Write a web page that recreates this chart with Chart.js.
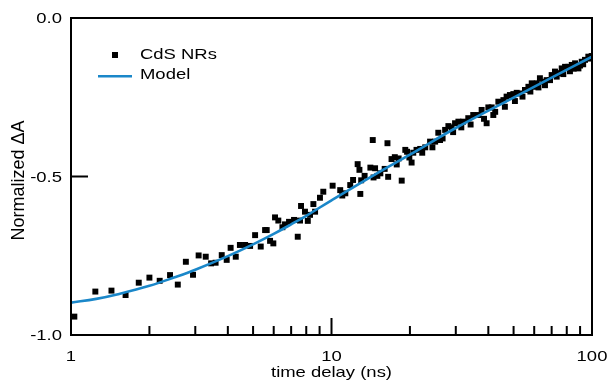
<!DOCTYPE html>
<html><head><meta charset="utf-8">
<script src="https://cdn.jsdelivr.net/npm/chart.js@4.4.1/dist/chart.umd.min.js"></script>
<style>html,body{margin:0;padding:0;background:#fff}#wrap{width:608px;height:392px}</style>
</head><body><div id="wrap"><canvas id="c" width="608" height="392"></canvas></div>
<script>
// ---- data ----
const dataTimes = [1.03,1.24,1.43,1.62,1.82,2.00,2.19,2.40,2.57,2.76,2.94,3.09,3.29,3.45,3.59,3.79,3.96,4.10,4.29,4.45,4.66,4.87,5.09,5.35,5.56,5.64,5.81,5.98,6.07,6.25,6.48,6.63,6.87,7.18,7.42,7.57,7.64,7.91,8.11,8.27,8.52,8.65,9.03,9.30,
10.1,10.8,11.0,11.3,11.8,12.1,12.6,12.8,12.9,13.0,13.4,14.1,14.4,14.5,14.7,15.0,15.4,16.0,16.4,16.5,17.0,17.5,17.8,18.1,18.6,19.2,19.5,19.9,20.3,20.6,21.2,21.9,22.3,22.9,23.9,24.4,25.0,25.7,26.1,26.7,27.3,28.1,28.9,29.3,29.8,30.7,
31.5,32.0,33.5,34.2,35.0,36.6,37.7,38.5,39.4,40.0,41.2,41.8,42.5,43.7,45.7,46.3,47.0,48.4,49.9,50.6,51.4,52.9,54.1,55.3,57.0,58.0,58.7,59.6,61.4,62.3,63.1,65.0,66.0,67.0,69.0,70.0,72.1,73.2,74.3,76.5,77.6,78.8,81.1,82.3,83.6,85.0,86.1,88.7,90.0,91.3,92.5,94.0,96.8,98.2,99.7];
const dataValues = [-0.942,-0.863,-0.860,-0.874,-0.835,-0.819,-0.829,-0.811,-0.841,-0.769,-0.810,-0.749,-0.753,-0.774,-0.772,-0.748,-0.763,-0.725,-0.753,-0.716,-0.716,-0.719,-0.685,-0.721,-0.669,-0.669,-0.703,-0.711,-0.629,-0.639,-0.660,-0.651,-0.643,-0.637,-0.690,-0.639,-0.593,-0.611,-0.640,-0.621,-0.587,-0.611,-0.567,-0.548,
-0.529,-0.543,-0.560,-0.553,-0.527,-0.511,-0.461,-0.479,-0.555,-0.512,-0.498,-0.472,-0.385,-0.503,-0.474,-0.498,-0.490,-0.476,-0.395,-0.501,-0.445,-0.439,-0.462,-0.443,-0.513,-0.416,-0.422,-0.440,-0.456,-0.425,-0.416,-0.413,-0.425,-0.408,-0.390,-0.408,-0.390,-0.362,-0.385,-0.380,-0.353,-0.341,-0.345,-0.360,-0.332,-0.327,
-0.345,-0.327,-0.316,-0.336,-0.306,-0.306,-0.290,-0.318,-0.332,-0.282,-0.282,-0.306,-0.296,-0.264,-0.259,-0.280,-0.248,-0.243,-0.240,-0.262,-0.236,-0.238,-0.248,-0.227,-0.217,-0.232,-0.206,-0.217,-0.206,-0.219,-0.190,-0.201,-0.212,-0.196,-0.196,-0.180,-0.169,-0.185,-0.174,-0.159,-0.177,-0.154,-0.154,-0.168,-0.148,-0.160,-0.143,-0.159,-0.150,-0.138,-0.146,-0.132,-0.122,-0.128,-0.120];
const modelTimes  = [1, 1.25, 1.5, 2, 2.5, 3, 4, 5, 6, 7, 8, 10, 15, 20, 30, 50, 70, 100];
const modelValues = [-0.898,-0.886,-0.872,-0.845,-0.818,-0.794,-0.751,-0.714,-0.681,-0.651,-0.624,-0.575,-0.489,-0.431,-0.347,-0.251,-0.188,-0.122];
const seriesNames = ['CdS NRs', 'Model'];
const xTickValues = [1, 10, 100];
const xTickLabels = ['1', '10', '100'];
const xMinorTickValues = [2,3,4,5,6,7,8,9,20,30,40,50,60,70,80,90];
const yTickValues = [0, -0.5, -1];
const yTickLabels = ['0.0', '-0.5', '-1.0'];
const xTitle = 'time delay (ns)';
const yTitle = 'Normalized \u0394A';

const MODEL_COLOR = '#1a87c9';
const FONT = '15px "Liberation Sans", Arial, sans-serif';
const STRETCH = 1.23;

function sText(ctx, txt, x, y, align, base) {
  ctx.save();
  ctx.translate(x, y);
  ctx.scale(STRETCH, 1);
  ctx.textAlign = align; ctx.textBaseline = base || 'middle';
  ctx.fillText(txt, 0, 0);
  ctx.restore();
}

const decor = {
  id: 'decor',
  afterDraw(chart) {
    const ctx = chart.ctx;
    const xs = chart.scales.x, ys = chart.scales.y;
    const L = xs.getPixelForValue(1), R = xs.getPixelForValue(100);
    const T = ys.getPixelForValue(0), B = ys.getPixelForValue(-1);
    ctx.save();
    ctx.fillStyle = '#000000';
    // frame (2px)
    ctx.fillRect(L - 1, T - 1, R - L + 2, 2);
    ctx.fillRect(L - 1, B - 1, R - L + 2, 2);
    ctx.fillRect(L - 1, T - 1, 2, B - T + 2);
    ctx.fillRect(R - 1, T - 1, 2, B - T + 2);
    // ticks (inward)
    xTickValues.forEach(v => { const p = xs.getPixelForValue(v); ctx.fillRect(p - 1, B - 17, 2, 17); });
    xMinorTickValues.forEach(v => { const p = xs.getPixelForValue(v); ctx.fillRect(p - 1, B - 9, 2, 9); });
    yTickValues.forEach(v => { const p = ys.getPixelForValue(v); ctx.fillRect(L, p - 1, 17, 2); });
    // labels
    ctx.font = FONT;
    xTickValues.forEach((v, i) => sText(ctx, xTickLabels[i], xs.getPixelForValue(v), B + 22, 'center'));
    yTickValues.forEach((v, i) => sText(ctx, yTickLabels[i], L - 9, ys.getPixelForValue(v) + 1, 'right'));
    sText(ctx, xTitle, (L + R) / 2, B + 38, 'center');
    ctx.save();
    ctx.translate(19, (T + B) / 2 + 4);
    ctx.rotate(-Math.PI / 2);
    ctx.font = '18px "Liberation Sans", Arial, sans-serif';
    ctx.textAlign = 'center'; ctx.textBaseline = 'middle';
    ctx.fillText(yTitle, 0, 0);
    ctx.restore();
    // legend
    ctx.fillRect(112, 52, 6, 6);
    sText(ctx, seriesNames[0], 140, 55, 'left');
    ctx.fillStyle = MODEL_COLOR;
    ctx.fillRect(98, 75, 34, 2.5);
    ctx.fillStyle = '#000';
    sText(ctx, seriesNames[1], 140, 75, 'left');
    ctx.restore();
  }
};

new Chart(document.getElementById('c'), {
  type: 'scatter',
  data: {
    datasets: [
      { label: seriesNames[1], data: modelTimes.map((t, i) => ({x: t, y: modelValues[i]})),
        showLine: true, borderColor: MODEL_COLOR, borderWidth: 2.6, pointRadius: 0,
        tension: 0.4, fill: false },
      { label: seriesNames[0], data: dataTimes.map((t, i) => ({x: t, y: dataValues[i]})),
        showLine: false, pointStyle: 'rect', pointRadius: 4.2, borderWidth: 0,
        backgroundColor: '#000', borderColor: '#000' }
    ]
  },
  options: {
    responsive: false, animation: false, devicePixelRatio: 1,
    layout: { padding: { top: 18, right: 16, left: 0, bottom: 0 } },
    plugins: { legend: { display: false }, tooltip: { enabled: false } },
    scales: {
      x: { type: 'logarithmic', min: 1, max: 100,
           grid: { display: false }, border: { display: false }, ticks: { display: false },
           afterFit: s => { s.height = 57; } },
      y: { type: 'linear', min: -1, max: 0,
           grid: { display: false }, border: { display: false }, ticks: { display: false },
           afterFit: s => { s.width = 71; } }
    }
  },
  plugins: [decor]
});
</script></body></html>
